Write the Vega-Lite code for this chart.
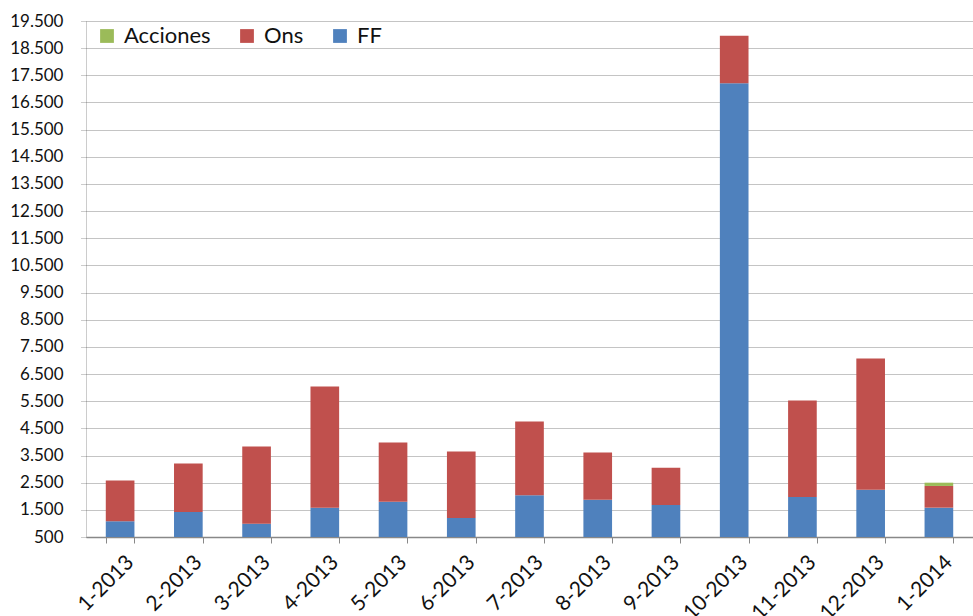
{
  "$schema": "https://vega.github.io/schema/vega-lite/v6.json",
  "width": 887,
  "height": 516,
  "autosize": {"type": "none"},
  "padding": {"left": 86, "top": 21, "right": 0, "bottom": 79},
  "background": "white",
  "datasets": {
    "series": [
      {"serie": "FF", "rango": 1},
      {"serie": "Ons", "rango": 2},
      {"serie": "Acciones", "rango": 3}
    ]
  },
  "data": {
    "values": [
      {"mes": "1-2013", "serie": "FF", "valor": 1080},
      {"mes": "2-2013", "serie": "FF", "valor": 1420},
      {"mes": "3-2013", "serie": "FF", "valor": 990},
      {"mes": "4-2013", "serie": "FF", "valor": 1580},
      {"mes": "5-2013", "serie": "FF", "valor": 1800},
      {"mes": "6-2013", "serie": "FF", "valor": 1200},
      {"mes": "7-2013", "serie": "FF", "valor": 2040},
      {"mes": "8-2013", "serie": "FF", "valor": 1870},
      {"mes": "9-2013", "serie": "FF", "valor": 1680},
      {"mes": "10-2013", "serie": "FF", "valor": 17205},
      {"mes": "11-2013", "serie": "FF", "valor": 1970},
      {"mes": "12-2013", "serie": "FF", "valor": 2240},
      {"mes": "1-2014", "serie": "FF", "valor": 1580},
      {"mes": "1-2013", "serie": "Ons", "valor": 1500},
      {"mes": "2-2013", "serie": "Ons", "valor": 1785},
      {"mes": "3-2013", "serie": "Ons", "valor": 2840},
      {"mes": "4-2013", "serie": "Ons", "valor": 4465},
      {"mes": "5-2013", "serie": "Ons", "valor": 2180},
      {"mes": "6-2013", "serie": "Ons", "valor": 2450},
      {"mes": "7-2013", "serie": "Ons", "valor": 2710},
      {"mes": "8-2013", "serie": "Ons", "valor": 1740},
      {"mes": "9-2013", "serie": "Ons", "valor": 1370},
      {"mes": "10-2013", "serie": "Ons", "valor": 1750},
      {"mes": "11-2013", "serie": "Ons", "valor": 3555},
      {"mes": "12-2013", "serie": "Ons", "valor": 4830},
      {"mes": "1-2014", "serie": "Ons", "valor": 800},
      {"mes": "1-2014", "serie": "Acciones", "valor": 120}
    ]
  },
  "transform": [
    {"lookup": "serie", "from": {"data": {"name": "series"}, "key": "serie", "fields": ["rango"]}}
  ],
  "config": {
    "font": "Lato",
    "view": {"stroke": null}
  },
  "mark": {"type": "bar", "clip": true},
  "encoding": {
    "x": {
      "field": "mes",
      "type": "nominal",
      "sort": null,
      "title": null,
      "scale": {"paddingInner": 0.58, "paddingOuter": 0.29},
      "axis": {
        "labelAngle": -45,
        "labelAlign": "right",
        "labelBaseline": "middle",
        "labelFontSize": 21,
        "labelColor": "#111",
        "labelPadding": 16,
        "labelOffset": 10,
        "tickBand": "extent",
        "tickSize": 6,
        "tickColor": "#888",
        "domainColor": "#888",
        "domainWidth": 1.5,
        "grid": false
      }
    },
    "y": {
      "field": "valor",
      "type": "quantitative",
      "aggregate": "sum",
      "stack": "zero",
      "title": null,
      "scale": {"domain": [500, 19500], "nice": false, "zero": false},
      "axis": {
        "values": [500, 1500, 2500, 3500, 4500, 5500, 6500, 7500, 8500, 9500, 10500, 11500, 12500, 13500, 14500, 15500, 16500, 17500, 18500, 19500],
        "labelExpr": "replace(format(datum.value, ','), ',', '.')",
        "labelFontSize": 17,
        "labelColor": "#111",
        "labelPadding": 18,
        "tickSize": 5,
        "tickColor": "#999",
        "tickDash": [1, 1],
        "domainColor": "#999",
        "domainDash": [1, 1],
        "grid": true,
        "gridColor": "#888",
        "gridDash": [1, 1],
        "gridOpacity": 1
      }
    },
    "color": {
      "field": "serie",
      "type": "nominal",
      "scale": {"domain": ["FF", "Ons", "Acciones"], "range": ["#4F81BD", "#C0504D", "#9BBB59"]},
      "legend": {
        "title": null,
        "orient": "none",
        "legendX": 10,
        "legendY": 4,
        "direction": "horizontal",
        "values": ["Acciones", "Ons", "FF"],
        "symbolType": "square",
        "symbolSize": 190,
        "symbolStrokeWidth": 0,
        "labelFontSize": 22,
        "labelColor": "#111",
        "labelOffset": 6,
        "columnPadding": 25,
        "padding": 0,
        "fillColor": "white"
      }
    },
    "order": {"field": "rango", "type": "quantitative", "sort": "ascending"}
  }
}
